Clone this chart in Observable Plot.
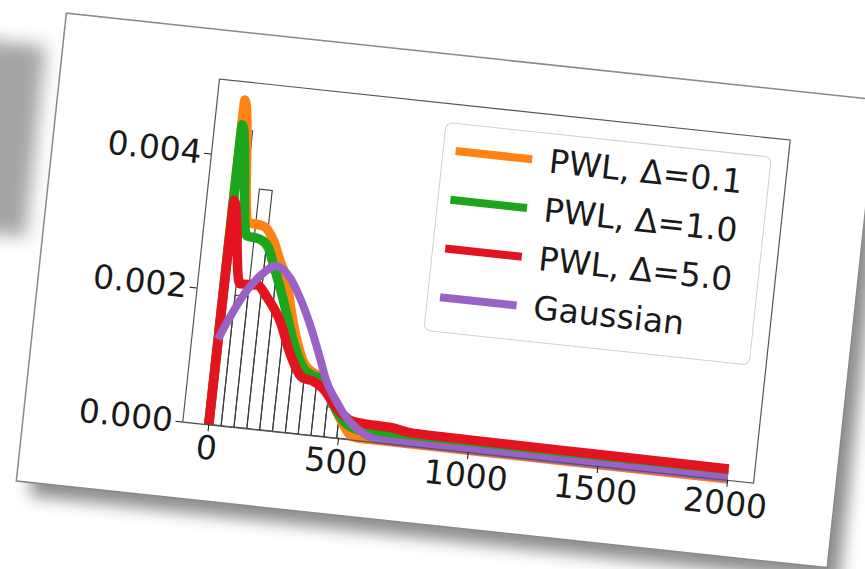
<!DOCTYPE html>
<html><head><meta charset="utf-8">
<script src="https://cdn.jsdelivr.net/npm/d3@7"></script>
<script src="https://cdn.jsdelivr.net/npm/@observablehq/plot@0.6"></script>
<style>
html,body{margin:0;padding:0;background:#fff;width:865px;height:569px;overflow:hidden;position:relative;}
#ghost{position:absolute;left:-34px;top:42px;width:70px;height:192px;background:#a4a4a4;filter:blur(9px);transform:rotate(6deg);}
#card{position:absolute;left:67px;top:14px;width:814px;height:469px;background:#fff;transform:rotate(6.1deg);transform-origin:0 0;box-shadow:0 0 0 1.5px #8a8a8a, 14px 14px 16px rgba(0,0,0,0.45);}
#card svg{position:absolute;left:0;top:0;}
#legend{position:absolute;left:388px;top:67px;width:328px;height:210px;box-sizing:border-box;border:1.2px solid #d0d0d0;border-radius:7px;background:rgba(255,255,255,0.85);font-family:"DejaVu Sans";font-size:33px;color:#1a1a1a;}
.row{position:absolute;left:0;height:0;width:100%;}
.sw{position:absolute;left:12px;width:77px;height:8px;margin-top:-4px;}
.lab{position:absolute;left:106px;top:0;transform:translateY(-50%);white-space:nowrap;line-height:1;}
</style></head>
<body>
<div id="ghost"></div>
<div id="card"></div>
<script>
// Histogram (bin edges and density heights)
const binEdges = [0, 49.5, 99, 148.5, 198, 247.5, 297, 346.5, 396, 445.5, 495, 544.5];
const binDensity = [0.0044, 0.00195, 0.00355, 0.00275, 0.0022, 0.00155, 0.00112, 0.0009, 0.00083, 0.00045, 0.0002];

// PWL, Δ=0.1
const pwl01X = [0, 5, 68, 128, 172, 205, 239, 265, 300, 340, 380, 410, 440, 485, 520, 545, 580, 2000];
const pwl01Y = [0, 0.00485, 0.00305, 0.00302, 0.00282, 0.00253, 0.00225, 0.00185, 0.0014, 0.00105, 0.00093, 0.00088, 0.0007, 0.00038, 0.00018, 0.00007, 0.00004, 0.00002];
// PWL, Δ=1.0
const pwl10X = [0, 5, 68, 120, 155, 181, 216, 252, 288, 337, 378, 404, 435, 481, 525, 575, 650, 750, 850, 1200, 2000];
const pwl10Y = [0, 0.00448, 0.00285, 0.00282, 0.00271, 0.00247, 0.00214, 0.00176, 0.00137, 0.00099, 0.00089, 0.00087, 0.00069, 0.00041, 0.00023, 0.00016, 0.00014, 0.00012, 0.0001, 0.00009, 0.00008];
// PWL, Δ=5.0
const pwl50X = [0, 5, 62, 127, 171, 229, 281, 340, 379, 420, 481, 547, 600, 690, 780, 1000, 1500, 2000];
const pwl50Y = [0, 0.00335, 0.00213, 0.00214, 0.00197, 0.00165, 0.00118, 0.00084, 0.00081, 0.00072, 0.00045, 0.00028, 0.00026, 0.00025, 0.0002, 0.00019, 0.00018, 0.00017];
// Gaussian
const gaussX = [0, 40, 90, 140, 193, 250, 296, 345, 396, 431, 477, 522, 578, 645, 800, 2000];
const gaussY = [0.00128, 0.00165, 0.00204, 0.0023, 0.00245, 0.0023, 0.00202, 0.00164, 0.00117, 0.00083, 0.00055, 0.00032, 0.00015, 0.00005, 0.00004, 0.00003];

const seriesNames = ["PWL, Δ=0.1", "PWL, Δ=1.0", "PWL, Δ=5.0", "Gaussian"];
const seriesColors = ["#ff8212", "#1ea51e", "#e3141f", "#9a62c6"];
const seriesX = [pwl01X, pwl10X, pwl50X, gaussX];
const seriesY = [pwl01Y, pwl10Y, pwl50Y, gaussY];

const xTicks = [0, 500, 1000, 1500, 2000];
const yTicks = [0, 0.002, 0.004];

const bins = binDensity.map((d, i) => ({x1: binEdges[i], x2: binEdges[i + 1], y: d}));

const lineMarks = seriesNames.map((name, k) => {
  const data = seriesX[k].map((x, i) => ({x, y: seriesY[k][i]}));
  return Plot.line(data, {x: "x", y: "y", stroke: seriesColors[k], strokeWidth: k === 3 ? 8 : 9.5, strokeLinejoin: "round", strokeLinecap: "butt", curve: "monotone-x"});
});

const chart = Plot.plot({
  width: 814, height: 469,
  marginLeft: 158, marginRight: 82, marginTop: 48, marginBottom: 76,
  style: {fontFamily: "DejaVu Sans", fontSize: "33px", background: "transparent", color: "#1a1a1a", overflow: "visible"},
  x: {domain: [-100, 2100]},
  y: {domain: [0, 0.00512]},
  marks: [
    Plot.rectY(bins, {x1: "x1", x2: "x2", y: "y", fill: "none", stroke: "#3a3a3a", strokeWidth: 1.1}),
    ...lineMarks,
    Plot.frame({stroke: "#555", strokeWidth: 1.2}),
    Plot.axisX({ticks: xTicks, tickFormat: d => String(d), tickSize: 7, tickPadding: 4, fontSize: 33, label: null}),
    Plot.axisY({ticks: yTicks, tickFormat: d3.format(".3f"), tickSize: 7, tickPadding: 3, fontSize: 33, label: null})
  ]
});
const card = document.getElementById("card");
card.appendChild(chart);

const legend = document.createElement("div");
legend.id = "legend";
const rowTops = [27, 76, 125, 174];
seriesNames.forEach((name, k) => {
  const row = document.createElement("div");
  row.className = "row";
  row.style.top = rowTops[k] + "px";
  const sw = document.createElement("div");
  sw.className = "sw";
  sw.style.background = seriesColors[k];
  const lab = document.createElement("div");
  lab.className = "lab";
  lab.textContent = name;
  row.appendChild(sw);
  row.appendChild(lab);
  legend.appendChild(row);
});
card.appendChild(legend);
</script>
</body></html>
